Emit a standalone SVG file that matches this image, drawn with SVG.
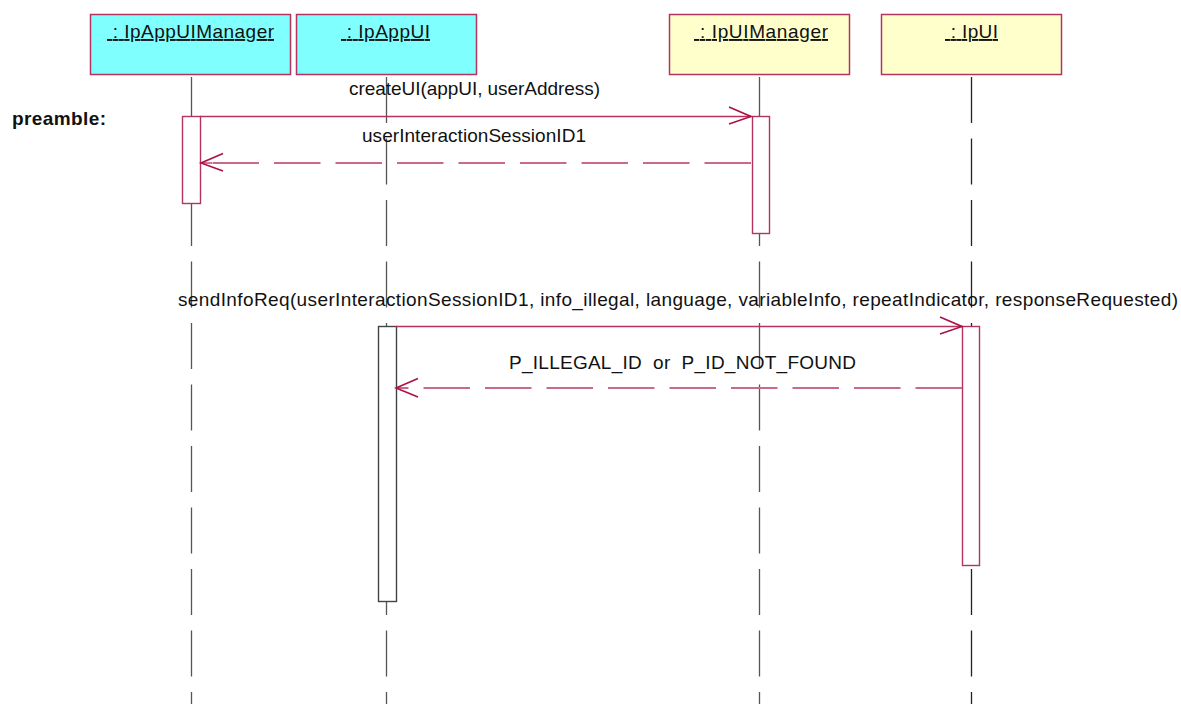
<svg xmlns="http://www.w3.org/2000/svg" width="1181" height="704" viewBox="0 0 1181 704">
<style>
text{font-family:"Liberation Sans",Arial,sans-serif;font-size:19px;fill:#111}
.t{text-decoration:underline}
.c{fill:#80ffff;stroke:#b5345f;stroke-width:1.5}
.y{fill:#ffffcc;stroke:#b5345f;stroke-width:1.5}
.life{stroke:#555;stroke-width:1.3;stroke-dasharray:46 15.5;fill:none}
.a{fill:#fff;stroke:#b5345f;stroke-width:1.4}
.m{stroke:#b5345f;stroke-width:1.4;fill:none}
.r{stroke:#c96a8a;stroke-width:1.8;stroke-dasharray:46.5 15;fill:none}
.h{stroke:#ad0f48;stroke-width:1.6;fill:none}
</style>
<g id="lifelines">
<path class="life" d="M191.5 77V704"/>
<path class="life" d="M386.5 77V704"/>
<path class="life" d="M759.5 77V704"/>
<path class="life" d="M971.5 77V704" style="stroke:#222"/>
</g>
<g id="node-ipappuimanager"><rect class="c" x="90.5" y="14.5" width="200" height="60"/><text class="t" x="107" y="38" xml:space="preserve" textLength="167"> : IpAppUIManager</text></g>
<g id="node-ipappui"><rect class="c" x="296.5" y="14.5" width="180" height="60"/><text class="t" x="341" y="38" xml:space="preserve" textLength="89"> : IpAppUI</text></g>
<g id="node-ipuimanager"><rect class="y" x="669.5" y="14.5" width="180" height="60"/><text class="t" x="694" y="38" xml:space="preserve" textLength="134"> : IpUIManager</text></g>
<g id="node-ipui"><rect class="y" x="881.5" y="14.5" width="180" height="60"/><text class="t" x="945" y="38" xml:space="preserve" textLength="53"> : IpUI</text></g>
<g id="activations">
<rect class="a" x="182.5" y="116.5" width="18" height="87"/>
<rect class="a" x="752.5" y="116.5" width="17" height="117"/>
<rect class="a" x="378.5" y="326.5" width="18" height="275" style="stroke:#444"/>
<rect class="a" x="962.5" y="326.5" width="17" height="239"/>
</g>
<g id="connectors">
<path class="m" d="M200 116.5H751"/><path class="h" d="M729 107L751 116.5L729 124"/>
<path class="r" d="M751 163H212"/><path class="r" d="M212 163H201" style="stroke-dasharray:none"/><path class="h" d="M223 153.5L201 163L223 171"/>
<path class="m" d="M396 326.5H962"/><path class="h" d="M940 317L962 326.5L940 334"/>
<path class="r" d="M962 388H396"/><path class="h" d="M418 378.5L396 388L418 397"/>
</g>
<g id="labels">
<text x="12" y="125" style="font-weight:bold" textLength="94">preamble:</text>
<text x="349" y="95" textLength="251">createUI(appUI, userAddress)</text>
<text x="362" y="142" textLength="224">userInteractionSessionID1</text>
<text x="178" y="306" textLength="1000">sendInfoReq(userInteractionSessionID1, info_illegal, language, variableInfo, repeatIndicator, responseRequested)</text>
<text x="509" y="369" xml:space="preserve" textLength="347">P_ILLEGAL_ID  or  P_ID_NOT_FOUND</text>
</g>
</svg>
